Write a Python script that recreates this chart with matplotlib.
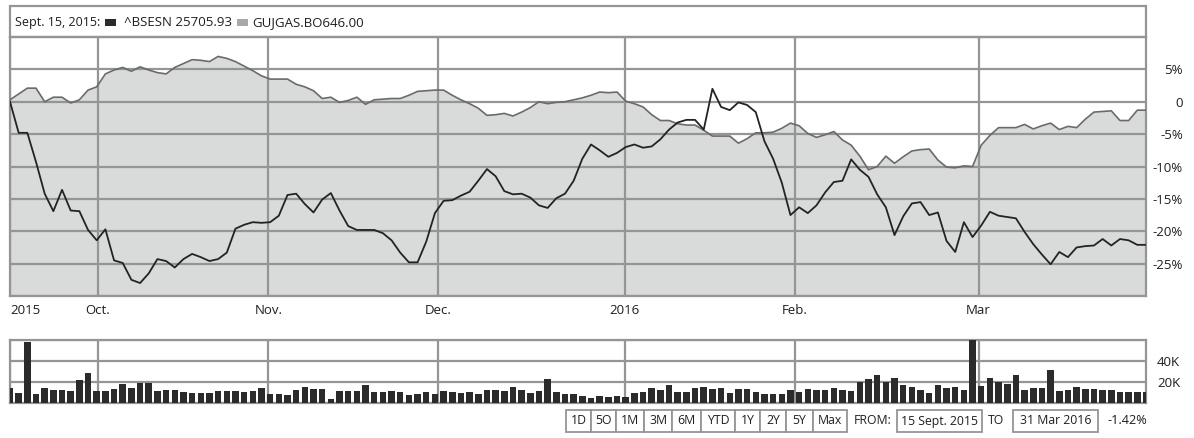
import matplotlib
matplotlib.use('Agg')
import matplotlib.pyplot as plt
from matplotlib.patches import Rectangle

W, H = 1194, 438
plt.rcParams['font.family'] = ['Open Sans', 'DejaVu Sans']

# ---------------- data ----------------
bsesn_pct = [0, -4.8, -4.8, -9.3, -14.2, -16.9, -13.6, -16.8, -16.9, -19.8,
             -21.4, -19.7, -24.5, -24.9, -27.5, -28.0, -26.5, -24.3, -24.6, -25.6,
             -24.3, -23.5, -24.0, -24.6, -24.3, -23.3, -19.6, -19.0, -18.6, -18.7,
             -18.6, -17.6, -14.4, -14.2, -15.8, -17.1, -15.1, -14.1, -16.8, -19.2,
             -19.8, -19.8, -19.8, -20.3, -21.4, -23.3, -24.8, -24.8, -21.6, -17.2,
             -15.3, -15.2, -14.5, -13.9, -12.2, -10.4, -11.5, -13.8, -14.3, -14.2,
             -14.8, -16.0, -16.4, -14.9, -14.2, -12.2, -8.8, -6.6, -7.5, -8.5,
             -7.9, -7.0, -6.6, -7.1, -6.9, -5.8, -4.3, -3.2, -2.8, -2.8,
             -4.3, 2.0, -0.8, -1.3, -0.1, -0.5, -1.6, -6.1, -8.8, -12.5,
             -17.5, -16.3, -17.2, -16.0, -14.0, -12.4, -12.2, -8.9, -10.5, -11.6,
             -14.3, -16.3, -20.6, -17.7, -15.7, -15.5, -17.5, -17.1, -21.5, -23.2,
             -18.6, -20.9, -19.1, -17.0, -17.6, -17.8, -18.0, -20.1, -22.0, -23.6,
             -25.1, -23.2, -24.0, -22.5, -22.3, -22.2, -21.2, -22.2, -21.2, -21.4,
             -22.1, -22.1]

gujgas_pct = [0.3, 1.2, 2.1, 2.1, 0.0, 0.7, 0.7, -0.2, 0.3, 1.8,
              2.3, 4.3, 4.9, 5.3, 4.7, 5.4, 4.9, 4.5, 4.3, 5.3,
              5.9, 6.5, 6.4, 6.2, 7.0, 6.7, 6.2, 5.5, 4.8, 4.0,
              3.5, 3.5, 3.5, 2.7, 2.3, 1.7, 0.5, 0.7, -0.1, 0.2,
              0.7, -0.4, 0.3, 0.4, 0.5, 0.5, 1.0, 1.6, 1.7, 1.8,
              1.8, 1.0, 0.3, -0.3, -1.0, -2.1, -2.0, -1.8, -2.2, -1.6,
              -0.9, 0.0, -0.3, -0.1, 0.0, 0.3, 0.6, 1.0, 1.5, 1.4,
              1.5, 0.1, -0.3, -0.8, -2.0, -2.9, -2.9, -3.4, -3.6, -3.6,
              -4.4, -5.3, -5.3, -5.3, -6.4, -5.7, -4.8, -4.8, -4.7, -4.1,
              -3.3, -3.7, -4.9, -5.5, -5.1, -4.6, -5.9, -6.7, -8.4, -10.5,
              -10.0, -8.4, -9.5, -8.5, -7.6, -7.4, -7.3, -9.0, -10.1, -10.2,
              -9.9, -10.0, -6.7, -5.2, -4.0, -4.0, -4.0, -3.5, -4.2, -3.7,
              -3.3, -4.3, -3.8, -4.0, -2.7, -1.6, -1.5, -1.4, -2.9, -2.9,
              -1.3, -1.3]

volume_k = [14.3, 9.3, 58.0, 8.3, 14.3, 12.3, 12.3, 11.7, 21.7, 28.7,
            11.7, 11.7, 13.3, 17.7, 14.3, 19.3, 18.7, 11.7, 12.0, 12.7,
            10.7, 9.3, 10.0, 10.0, 11.0, 11.7, 11.0, 10.7, 11.0, 14.7,
            9.0, 9.0, 7.7, 12.7, 15.7, 13.7, 13.7, 3.7, 11.7, 11.7,
            11.7, 16.7, 10.7, 10.7, 11.7,
            10.7, 7.7, 9.0, 10.7, 9.0, 11.7, 10.7, 9.7, 10.7, 9.0,
            12.7, 12.7, 11.7, 15.7, 12.7, 9.7, 11.7, 22.7, 10.7, 8.7,
            8.7, 6.7, 4.3, 6.7, 5.3, 6.7, 5.3, 9.7, 10.7, 14.3,
            12.7, 16.7, 10.7, 10.7, 14.7, 15.7, 13.7, 14.7, 9.7, 13.7,
            13.7, 10.7, 8.7, 8.7, 8.7, 12.7,
            10.7, 13.3, 12.3, 12.3, 14.3, 12.3, 11.7, 19.7, 23.3, 26.7,
            20.3, 23.7, 16.7, 15.7, 12.7, 10.0, 16.7, 14.0, 15.3, 12.7,
            61.0, 16.0, 23.7, 20.3, 17.7, 26.7, 12.3, 14.7, 14.7, 31.0,
            11.7, 12.7, 15.7, 13.7, 13.7, 12.7, 12.7, 10.7, 10.7, 10.7,
            10.7]

month_labels = ['2015', 'Oct.', 'Nov.', 'Dec.', '2016', 'Feb.', 'Mar']
pct_ticks = [-30, -25, -20, -15, -10, -5, 0, 5, 10]
pct_labels = ['', '-25%', '-20%', '-15%', '-10%', '-5%', '0', '5%', '']
vol_ticks = [0, 20, 40, 60]
vol_labels = ['', '20K', '40K', '']
header_date = 'Sept. 15, 2015:'
series_names = ['^BSESN 25705.93', 'GUJGAS.BO646.00']
range_buttons = ['1D', '5O', '1M', '3M', '6M', 'YTD', '1Y', '2Y', '5Y', 'Max']
from_label, to_label = 'FROM:', 'TO'
from_date, to_date = '15 Sept. 2015', '31 Mar 2016'
change_text = '-1.42%'

# ---------------- layout ----------------
month_pos = [0, 10.1, 29.8, 49.4, 70.9, 90.5, 111.7]
GRID = '#959595'
TXT = '#1e1e1e'
n = len(bsesn_pct)
x = list(range(n))


def fx(px):
    return px / W


def fy(py):
    return 1 - py / H


fig = plt.figure(figsize=(W / 100, H / 100), dpi=100)

# ---- main panel ----
ax = fig.add_axes([fx(10), fy(296), 1136 / W, 259 / H])
ax.fill_between(x, gujgas_pct, -30, color='#d9dada', lw=0, zorder=1)
ax.plot(x, gujgas_pct, color='#6a6a6a', lw=1.2, zorder=3)
ax.plot(x, bsesn_pct, color='#232323', lw=1.3, zorder=4)
ax.set_xlim(0, n - 1)
ax.set_ylim(-30, 10)
ax.set_axisbelow(False)
ax.grid(True, color=GRID, lw=1.6)
ax.set_xticks(month_pos)
ax.set_xticklabels(month_labels)
ax.set_yticks(pct_ticks)
ax.set_yticklabels(pct_labels)
ax.yaxis.tick_right()
ax.tick_params(axis='y', length=0, pad=26.5, labelsize=9.5, labelcolor=TXT)
ax.tick_params(axis='x', length=0, pad=6, labelsize=9.5, labelcolor=TXT)
for lab in ax.get_yticklabels():
    lab.set_horizontalalignment('right')
ax.get_xticklabels()[0].set_horizontalalignment('left')
for s in ax.spines.values():
    s.set_color(GRID)
    s.set_linewidth(1.6)

# ---- header box ----
fig.add_artist(Rectangle((fx(10), fy(37)), 1136 / W, 31 / H, transform=fig.transFigure,
                         facecolor='white', edgecolor=GRID, lw=1.6, zorder=0))
hy = fy(22.5)
fig.text(fx(15), hy, header_date, ha='left', va='center', fontsize=9.0, color=TXT)
fig.add_artist(Rectangle((fx(105), fy(25.5)), 11 / W, 6.5 / H, transform=fig.transFigure,
                         facecolor='#2b2b2b', edgecolor='none'))
fig.text(fx(124), hy, series_names[0], ha='left', va='center', fontsize=9.5, color=TXT)
fig.add_artist(Rectangle((fx(237), fy(25.5)), 11 / W, 6.5 / H, transform=fig.transFigure,
                         facecolor='#a8a8a8', edgecolor='none'))
fig.text(fx(252), hy, series_names[1], ha='left', va='center', fontsize=9.5, color=TXT)

# ---- volume panel ----
av = fig.add_axes([fx(10), fy(403), 1136 / W, 63 / H])
av.bar(x, volume_k, width=0.75, color='#2b2b2b', zorder=3)
av.set_xlim(0, n - 1)
av.set_ylim(0, 60)
av.set_xticks(month_pos)
av.set_xticklabels([])
av.set_yticks(vol_ticks)
av.set_yticklabels(vol_labels)
av.yaxis.tick_right()
av.tick_params(axis='y', length=0, pad=8, labelsize=9.5, labelcolor=TXT)
av.tick_params(axis='x', length=0)
av.set_axisbelow(True)
av.grid(True, color=GRID, lw=1.6)
for s in av.spines.values():
    s.set_color(GRID)
    s.set_linewidth(1.6)

# ---- range selector bar ----
btn_edges = [566, 591, 616, 644, 672, 701, 735, 760, 786, 813, 847]
by0, by1 = 410, 432
byc = fy((by0 + by1) / 2)


def box(x0, x1, label):
    fig.add_artist(Rectangle((fx(x0), fy(by1)), (x1 - x0) / W, (by1 - by0) / H,
                             transform=fig.transFigure, facecolor='white',
                             edgecolor=GRID, lw=1.3))
    fig.text(fx((x0 + x1) / 2), byc, label, ha='center', va='center',
             fontsize=8.8, color=TXT)


for i, lab in enumerate(range_buttons):
    box(btn_edges[i], btn_edges[i + 1], lab)
fig.text(fx(873), byc, from_label, ha='center', va='center', fontsize=8.8, color=TXT)
box(897, 982, from_date)
fig.text(fx(996), byc, to_label, ha='center', va='center', fontsize=8.8, color=TXT)
box(1013, 1098, to_date)
fig.text(fx(1147), byc, change_text, ha='right', va='center', fontsize=9.2, color=TXT)

fig.savefig('out.png', dpi=100, facecolor='white')
